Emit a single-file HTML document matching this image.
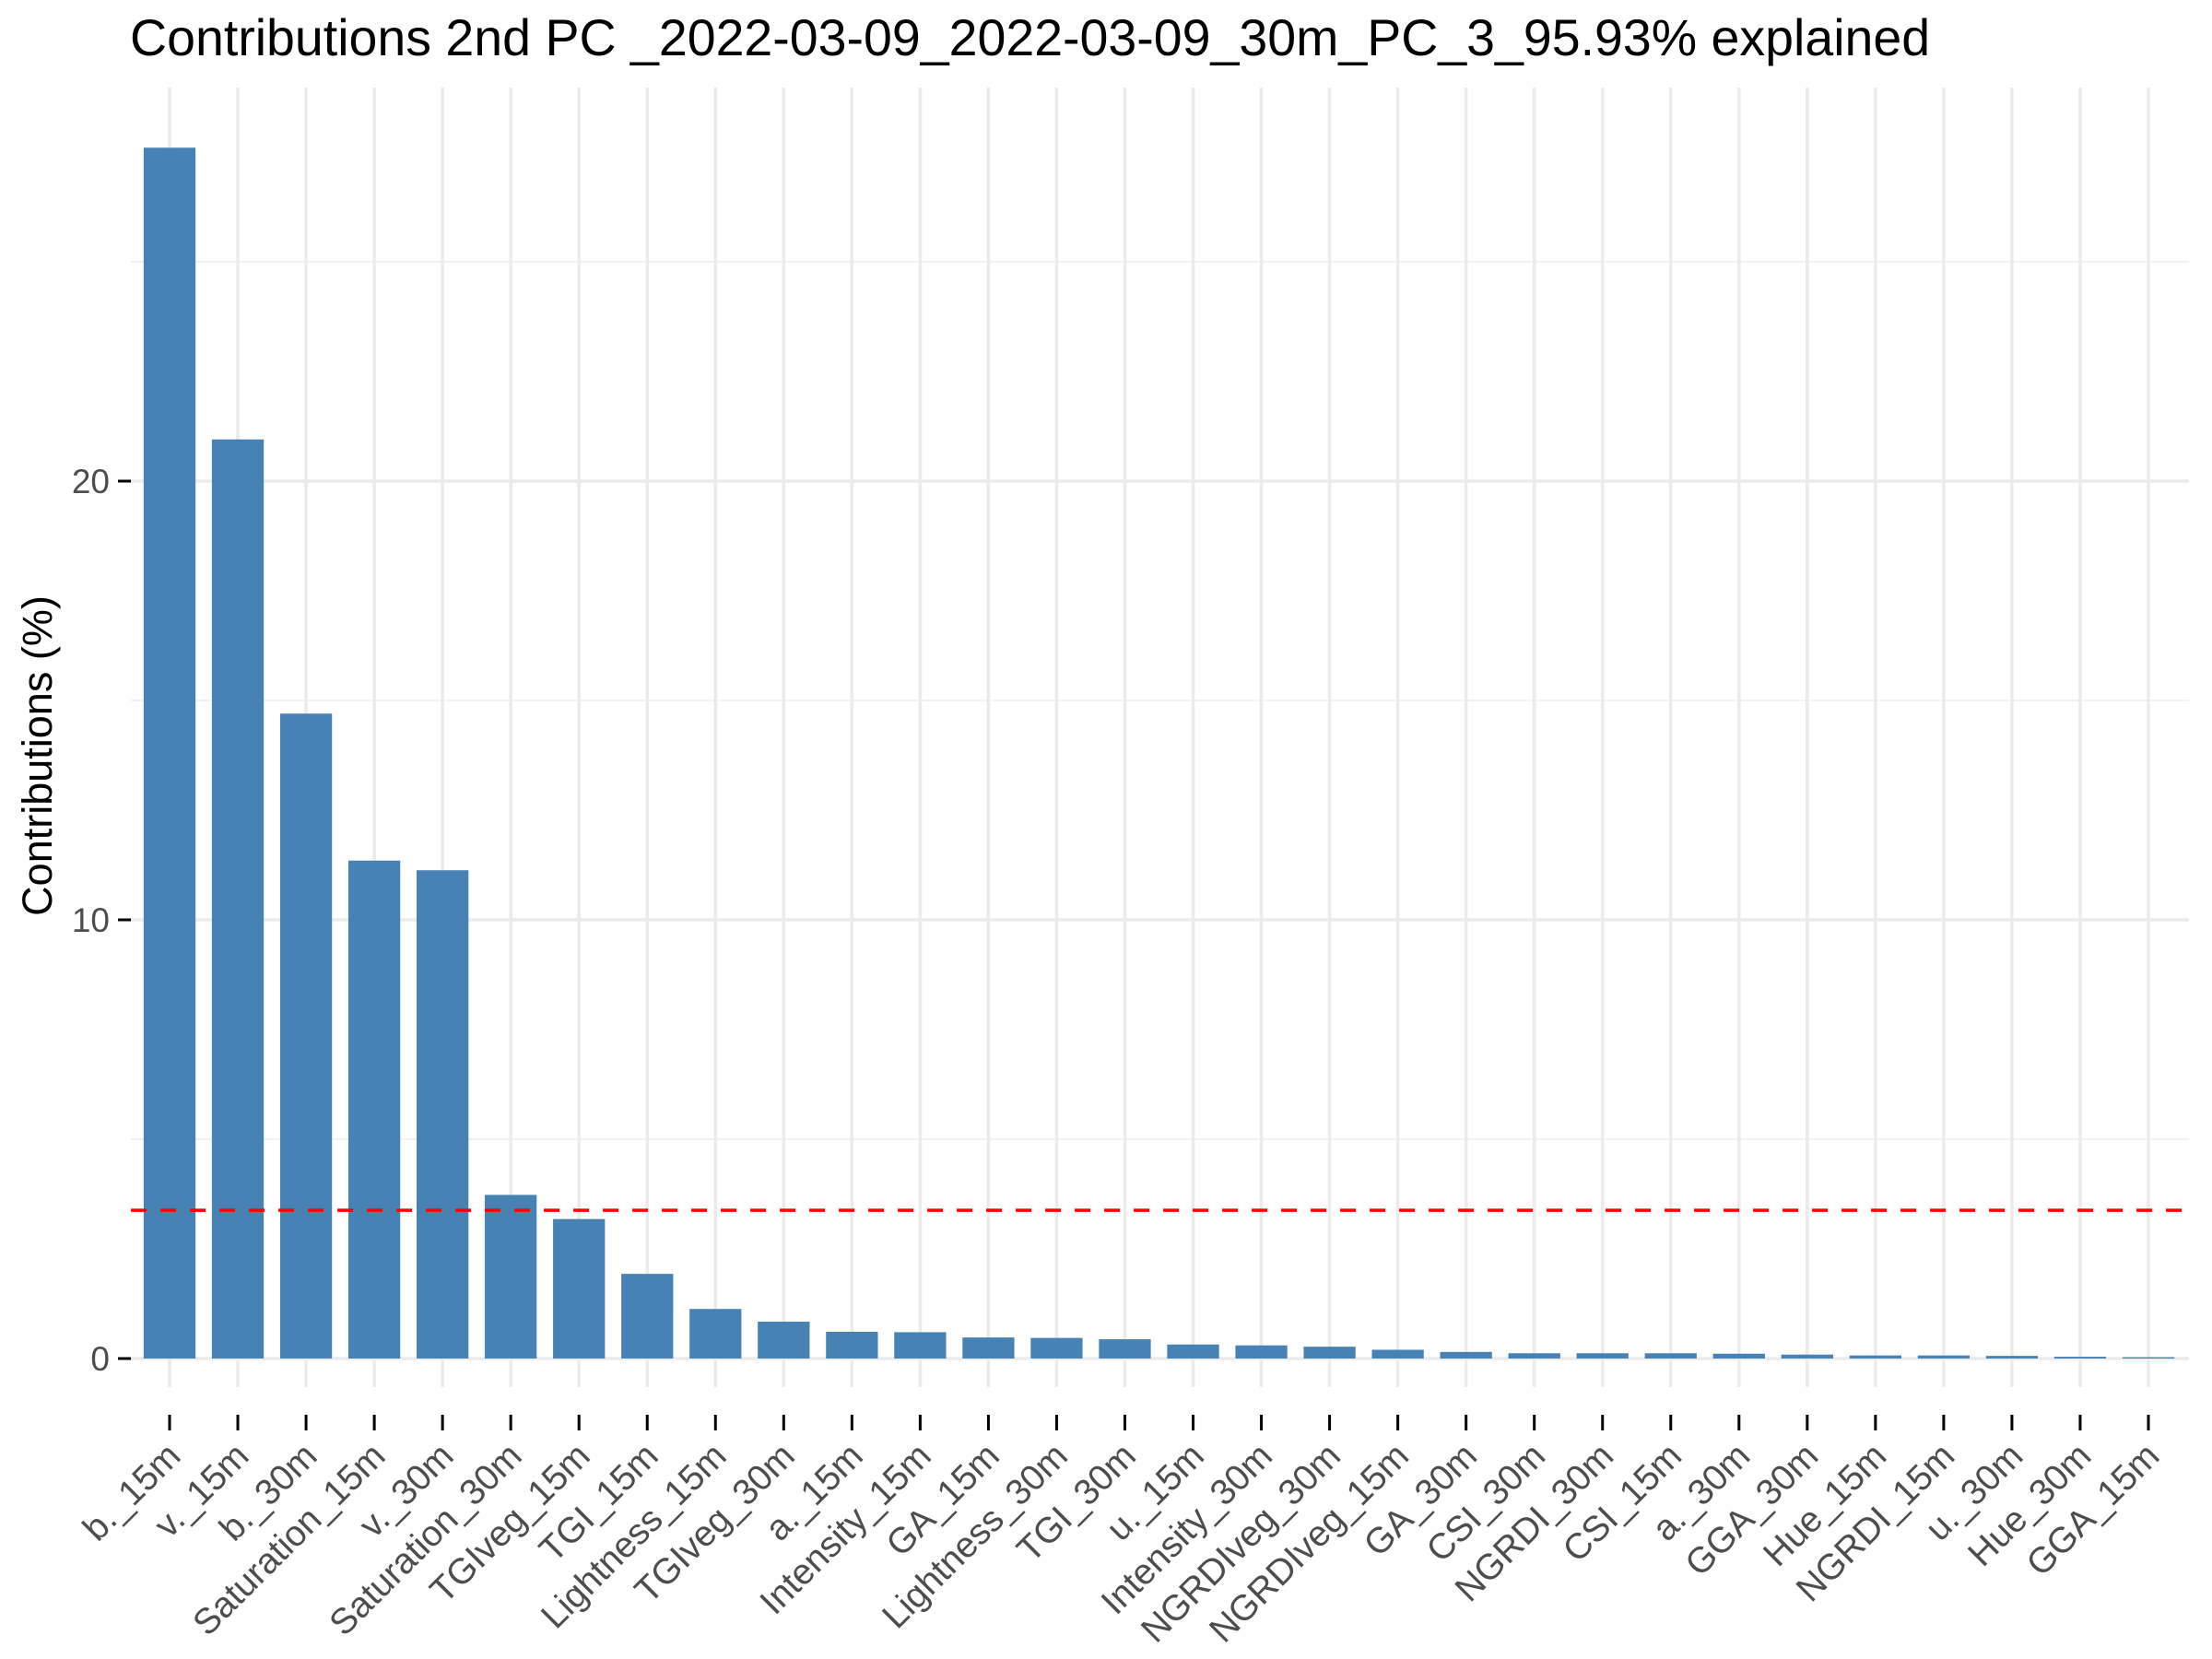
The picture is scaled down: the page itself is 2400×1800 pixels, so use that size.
<!DOCTYPE html>
<html><head><meta charset="utf-8"><style>
body{margin:0;background:#fff}
svg{display:block;font-family:"Liberation Sans",Arial,sans-serif}
</style></head><body>
<svg id="chart" width="2400" height="1800" viewBox="0 0 2400 1800" xmlns="http://www.w3.org/2000/svg">
<rect width="2400" height="1800" fill="#fff"/>
<text x="141" y="60" font-size="55.5" fill="#000">Contributions 2nd PC _2022-03-09_2022-03-09_30m_PC_3_95.93% explained</text>
<text transform="translate(56,820) rotate(-90)" text-anchor="middle" font-size="45" fill="#000">Contributions (%)</text>
<g id="grid"></g><g id="bars"></g><g id="axes"></g>
</svg>
<script>
const categories=["b._15m","v._15m","b._30m","Saturation_15m","v._30m","Saturation_30m","TGIveg_15m","TGI_15m","Lightness_15m","TGIveg_30m","a._15m","Intensity_15m","GA_15m","Lightness_30m","TGI_30m","u._15m","Intensity_30m","NGRDIveg_30m","NGRDIveg_15m","GA_30m","CSI_30m","NGRDI_30m","CSI_15m","a._30m","GGA_30m","Hue_15m","NGRDI_15m","u._30m","Hue_30m","GGA_15m"];
const values=[27.6,20.95,14.7,11.35,11.13,3.73,3.18,1.93,1.13,0.84,0.61,0.6,0.48,0.47,0.44,0.32,0.3,0.27,0.2,0.15,0.12,0.12,0.12,0.11,0.09,0.07,0.07,0.06,0.04,0.03];
const yTicks=[0,10,20];
const yMinor=[5,15,25];
const refLine=[3.38];
const NS="http://www.w3.org/2000/svg";
const n=categories.length;
const x0=184,x1=2331,pL=142,pR=2375,pT=95,pB=1505;
const step=(x1-x0)/(n-1);
const bw=step*0.76;
function xs(i){return x0+i*step;}
function ys(v){return 1474-v*47.6;}
function mk(tag,attrs,parent){const e=document.createElementNS(NS,tag);for(const k in attrs)e.setAttribute(k,attrs[k]);parent.appendChild(e);return e;}
const grid=document.getElementById('grid'),bars=document.getElementById('bars'),axes=document.getElementById('axes');
yMinor.forEach(v=>{const l=mk('line',{x1:pL,x2:pR,y1:ys(v),y2:ys(v),stroke:'#f2f2f2','stroke-width':2},grid);

});
yTicks.forEach(v=>{const l=mk('line',{x1:pL,x2:pR,y1:ys(v),y2:ys(v),stroke:'#ebebeb','stroke-width':3.5},grid);


const t=mk('line',{x1:128,x2:142,y1:ys(v),y2:ys(v),stroke:'#000','stroke-width':3},axes);


const lb=mk('text',{x:119,y:ys(v)+13,'text-anchor':'end','font-size':37,fill:'#4d4d4d'},axes);lb.textContent=v;

});
categories.forEach((c,i)=>{const x=xs(i);
const g=mk('line',{x1:x,x2:x,y1:pT,y2:pB,stroke:'#ebebeb','stroke-width':3.5},grid);


const b=mk('rect',{x:x-bw/2,y:ys(values[i]),width:bw,height:Math.max(0,ys(0)-ys(values[i])),fill:'#4682b4'},bars);


const t=mk('line',{x1:x,x2:x,y1:1535,y2:1552,stroke:'#000','stroke-width':3},axes);


const lb=mk('text',{transform:`translate(${x+14},${1582}) rotate(-45)`,'text-anchor':'end','font-size':39,fill:'#4d4d4d'},axes);lb.textContent=c;

});
refLine.forEach(v=>{const r=mk('line',{x1:pL,x2:pR,y1:ys(v),y2:ys(v),stroke:'#ff0000','stroke-width':3.5,'stroke-dasharray':'17 15'},bars);

});
</script>
</body></html>
